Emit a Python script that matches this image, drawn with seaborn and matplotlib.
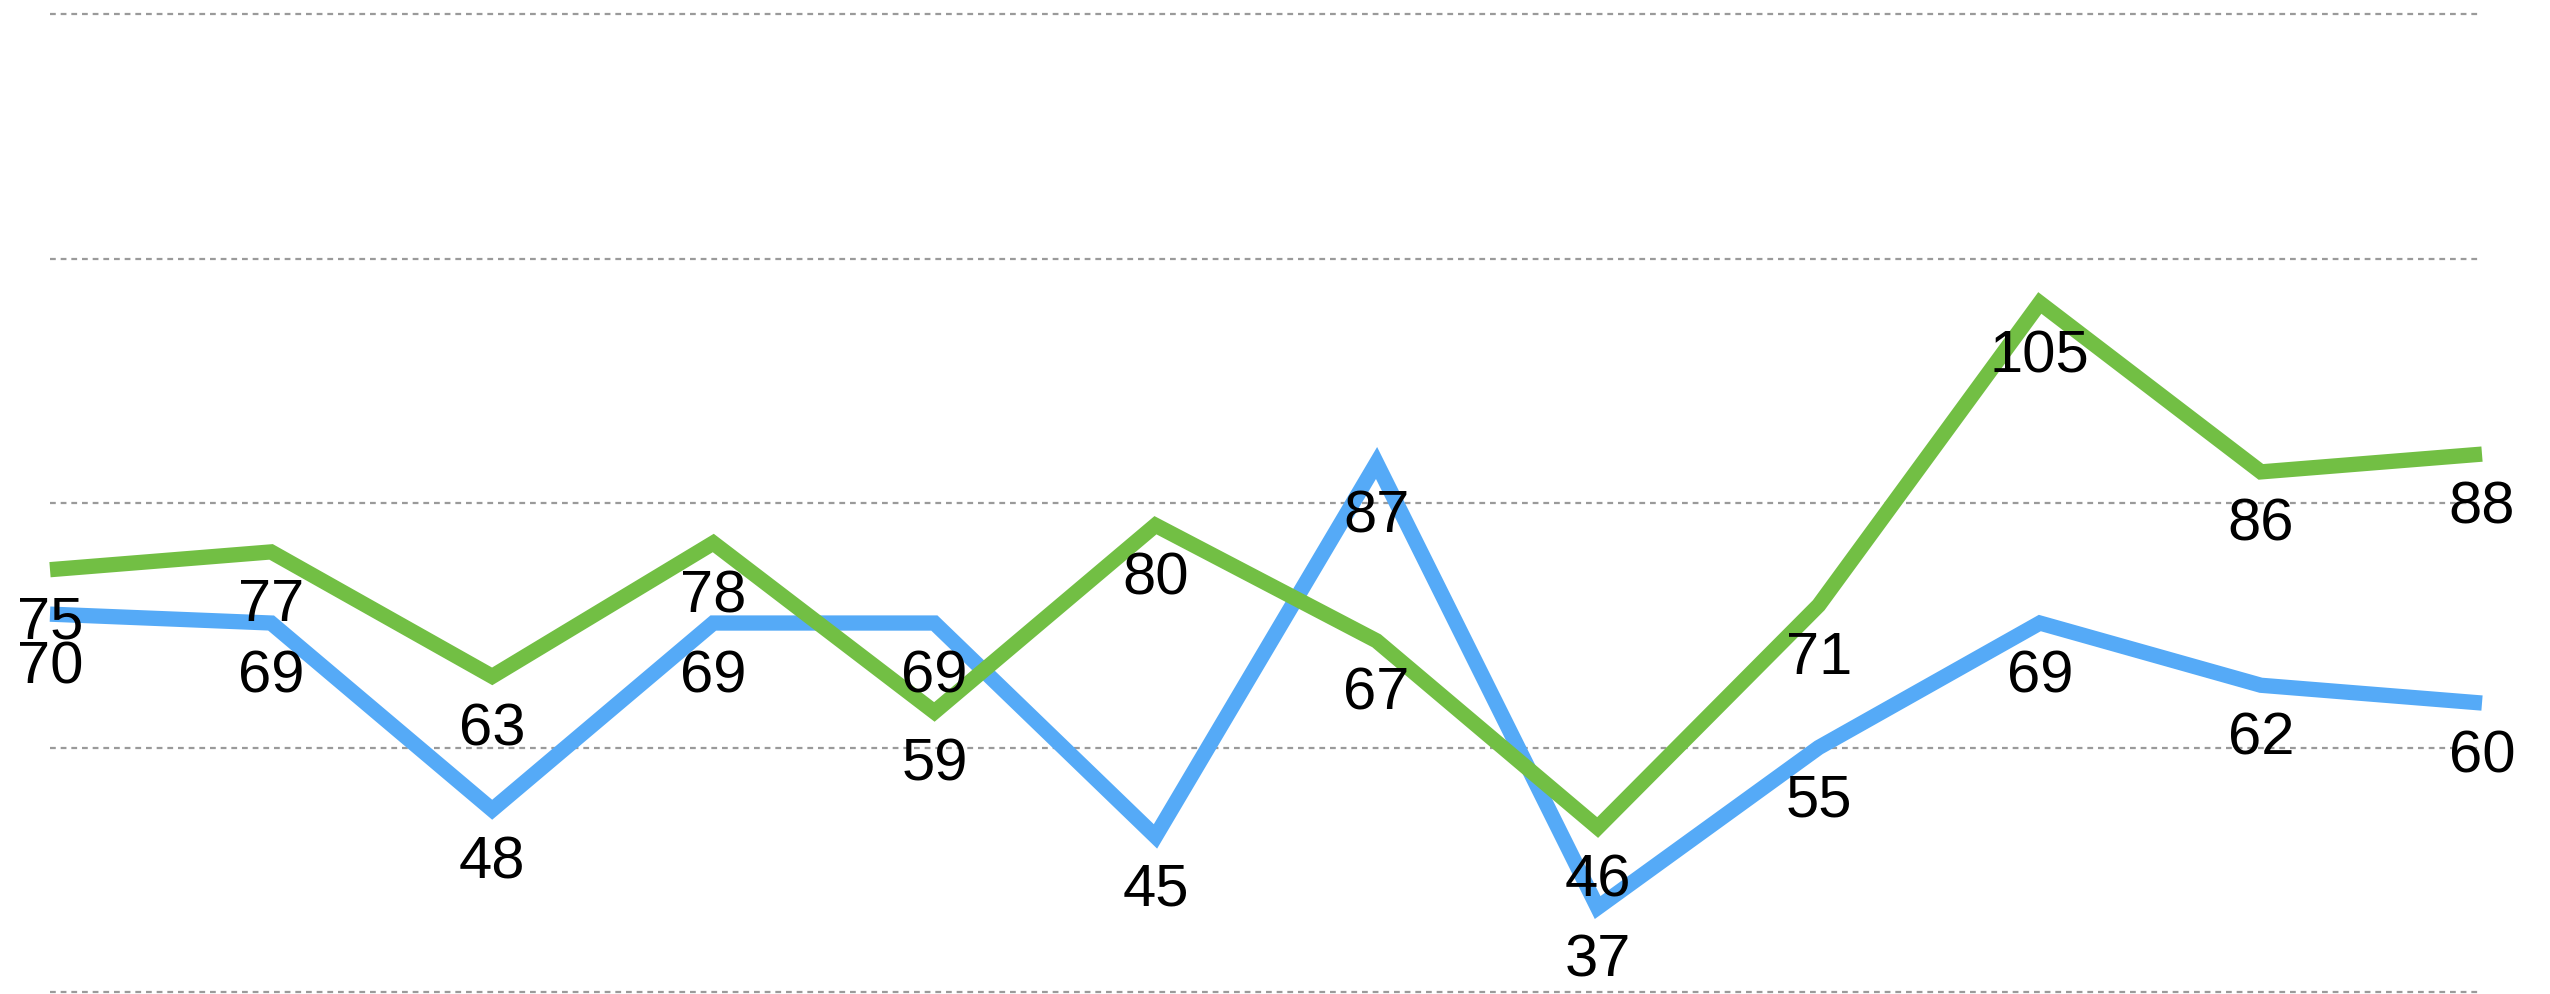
import matplotlib
matplotlib.use("Agg")
import matplotlib.pyplot as plt
import seaborn as sns
import pandas as pd

# values, left to right
points = list(range(12))
blue_values = [70, 69, 48, 69, 69, 45, 87, 37, 55, 69, 62, 60]
green_values = [75, 77, 63, 78, 59, 80, 67, 46, 71, 105, 86, 88]
series_names = ["blue", "green"]
series_colors = {"blue": "#55AAF7", "green": "#72BF44"}
grid_levels = [27.5, 55, 82.5, 110, 137.5]

df = pd.DataFrame({
    "x": points * 2,
    "value": blue_values + green_values,
    "series": ["blue"] * len(points) + ["green"] * len(points),
})

sns.set_style("white")
plt.rcParams["font.family"] = ["Liberation Sans", "DejaVu Sans"]

fig = plt.figure(figsize=(25.5, 9.95), dpi=100)
ax = fig.add_axes([50 / 2550, 2 / 995, 2432 / 2550, 978 / 995])

# dashed horizontal guides
for level in grid_levels:
    ax.axhline(level, color="#9a9a9a", lw=1.6, ls=(0, (2.6, 2.2)),
               clip_on=False, zorder=0)

sns.lineplot(data=df, x="x", y="value", hue="series", hue_order=series_names,
             palette=series_colors, linewidth=11, legend=False, ax=ax,
             sort=False)
for line in ax.get_lines():
    if line.get_linewidth() > 5:
        line.set_solid_joinstyle("miter")
        line.set_solid_capstyle("butt")
        line.set_clip_on(False)
        line.set_zorder(2)

# value labels under each point
for vals in (blue_values, green_values):
    for x, v in zip(points, vals):
        ax.annotate(str(v), (x, v), xytext=(0, -49), textcoords="offset points",
                    ha="center", va="baseline", fontsize=43, color="black",
                    zorder=5, annotation_clip=False)

ax.set_xlim(0, 11)
ax.set_ylim(27.5, 137.5)
ax.set_xticks([])
ax.set_yticks([])
ax.set_xlabel("")
ax.set_ylabel("")
for s in ax.spines.values():
    s.set_visible(False)

fig.savefig("out.png", dpi=100)
